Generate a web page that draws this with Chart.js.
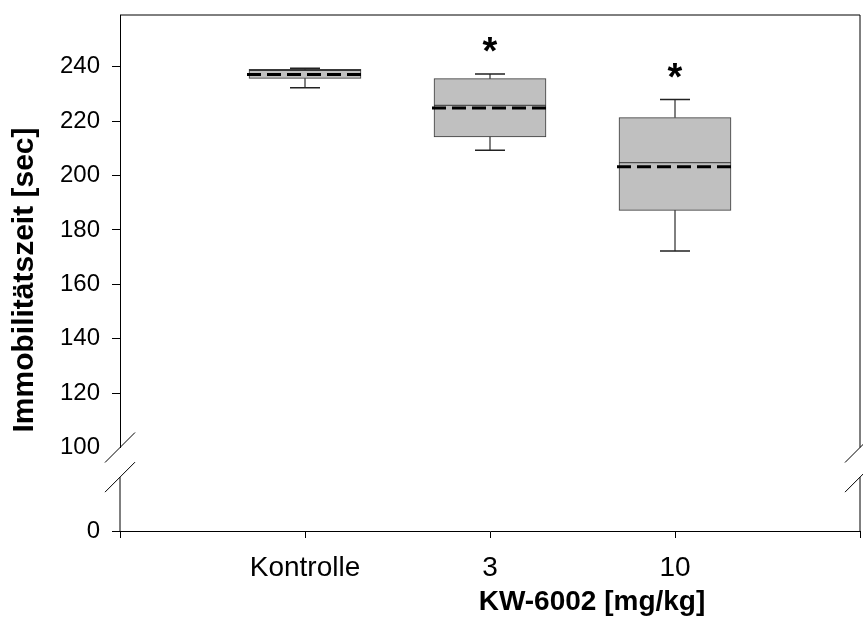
<!DOCTYPE html>
<html lang="de">
<head>
<meta charset="UTF-8">
<title>Immobilitätszeit</title>
<script src="https://cdn.jsdelivr.net/npm/chart.js"></script>
<style>
  html, body { margin: 0; padding: 0; background: #fff; }
  #wrap { width: 863px; height: 626px; }
</style>
</head>
<body>
<div id="wrap"><canvas id="boxChart"></canvas></div>
<script>
// categories (first and last are empty slots at the axis ends)
const groups = ['', 'Kontrolle', '3', '10', ''];

// box plot values per group
const whiskerLow  = [null, 232.3, 209.3, 172.2, null];
const q1          = [null, 235.7, 214.2, 187.2, null];
const median      = [null, 238.6, 225.8, 204.7, null];
const meanVals    = [null, 237.1, 224.8, 203.2, null];
const q3          = [null, 239.0, 235.6, 221.3, null];
const whiskerHigh = [null, 239.4, 237.3, 227.9, null];

// significance marks (value where the star sits)
const starAt = [null, null, 249.8, 240.0, null];

// y axis: upper segment and lower segment of the broken axis
const yTicksUpper = [100, 120, 140, 160, 180, 200, 220, 240];
const yTicksLower = [0];
const breakTop = 20;   // lower segment axis line starts here

const FONT = "'Liberation Sans', Arial, sans-serif";

// floating bars for the boxes
const boxes = groups.map((g, i) => q1[i] == null ? null : [q1[i], q3[i]]);

// drop the label overhang chart.js reserves around the axes
function noPad(s) {
  s.paddingTop = 0;
  s.paddingBottom = 0;
  s.paddingLeft = 0;
  s.paddingRight = 0;
}

const boxExtras = {
  id: 'boxExtras',
  afterDatasetsDraw(chart) {
    const ctx = chart.ctx;
    const x = chart.scales.x, y = chart.scales.y;
    const meta = chart.getDatasetMeta(0);
    ctx.save();
    groups.forEach((g, i) => {
      if (q1[i] == null) return;
      const cx = x.getPixelForValue(i);
      const w = meta.data[i].width;
      const capW = 30;
      // whiskers
      ctx.strokeStyle = '#000';
      ctx.lineWidth = 1;
      ctx.beginPath();
      ctx.moveTo(cx, y.getPixelForValue(q3[i]));
      ctx.lineTo(cx, y.getPixelForValue(whiskerHigh[i]));
      ctx.moveTo(cx, y.getPixelForValue(q1[i]));
      ctx.lineTo(cx, y.getPixelForValue(whiskerLow[i]));
      ctx.stroke();
      ctx.strokeStyle = '#222';
      ctx.lineWidth = 1.5;
      ctx.beginPath();
      [whiskerHigh[i], whiskerLow[i]].forEach(v => {
        const py = y.getPixelForValue(v);
        ctx.moveTo(cx - capW / 2, py);
        ctx.lineTo(cx + capW / 2, py);
      });
      ctx.stroke();
      // median
      ctx.strokeStyle = '#333';
      ctx.lineWidth = 1;
      ctx.beginPath();
      const pm = y.getPixelForValue(median[i]);
      ctx.moveTo(cx - w / 2, pm);
      ctx.lineTo(cx + w / 2, pm);
      ctx.stroke();
      // mean (dashed)
      ctx.strokeStyle = '#000';
      ctx.lineWidth = 3;
      ctx.setLineDash([14, 6]);
      ctx.beginPath();
      const pa = y.getPixelForValue(meanVals[i]);
      ctx.moveTo(cx - w / 2 - 2, pa);
      ctx.lineTo(cx + w / 2 + 2, pa);
      ctx.stroke();
      ctx.setLineDash([]);
      // star
      if (starAt[i] != null) {
        const size = 38;
        ctx.fillStyle = '#000';
        ctx.font = 'bold ' + size + 'px ' + FONT;
        ctx.textAlign = 'center';
        ctx.textBaseline = 'alphabetic';
        ctx.fillText('*', cx, y.getPixelForValue(starAt[i]) + 0.62 * size);
      }
    });
    ctx.restore();
  }
};

const frame = {
  id: 'frame',
  afterDraw(chart) {
    const ctx = chart.ctx;
    const x = chart.scales.x, y = chart.scales.y, y0 = chart.scales.y0;
    const left = x.left, right = x.right;
    const gapTop = y.bottom;
    const gapBottom = y0.getPixelForValue(breakTop);
    ctx.save();
    ctx.strokeStyle = '#000';
    ctx.lineWidth = 1;
    ctx.beginPath();
    // top border
    ctx.moveTo(left, y.top);
    ctx.lineTo(right, y.top);
    // right border, upper part
    ctx.moveTo(right, y.top);
    ctx.lineTo(right, gapTop);
    // lower segments
    ctx.moveTo(left, gapBottom);
    ctx.lineTo(left, y0.bottom);
    ctx.moveTo(right, gapBottom);
    ctx.lineTo(right, y0.bottom);
    // break marks
    [left, right].forEach(px => {
      [gapTop, gapBottom].forEach(py => {
        ctx.moveTo(px - 15, py + 15);
        ctx.lineTo(px + 15, py - 15);
      });
    });
    ctx.stroke();

    // axis titles
    ctx.fillStyle = '#000';
    ctx.font = 'bold 28px ' + FONT;
    ctx.textAlign = 'center';
    ctx.textBaseline = 'alphabetic';
    ctx.fillText('KW-6002 [mg/kg]', 592, 610);
    ctx.font = 'bold 30px ' + FONT;
    ctx.translate(33, 280);
    ctx.rotate(-Math.PI / 2);
    ctx.fillText('Immobilitätszeit [sec]', 0, 0);
    ctx.restore();
  }
};

new Chart(document.getElementById('boxChart'), {
  type: 'bar',
  data: {
    labels: groups,
    datasets: [{
      data: boxes,
      yAxisID: 'y',
      backgroundColor: '#c0c0c0',
      borderColor: '#3a3a3a',
      borderWidth: 1,
      borderSkipped: false,
      barThickness: 112
    }]
  },
  options: {
    responsive: true,
    maintainAspectRatio: false,
    animation: false,
    layout: { padding: { top: 15, right: 3, left: 0, bottom: 0 } },
    plugins: { legend: { display: false }, tooltip: { enabled: false } },
    scales: {
      x: {
        offset: false,
        grid: { offset: false, drawOnChartArea: false, drawTicks: true, tickLength: 7, color: '#000' },
        border: { display: true, color: '#000', width: 1 },
        ticks: { color: '#000', font: { family: FONT, size: 28 }, padding: 13, maxRotation: 0, autoSkip: false },
        afterFit: s => { s.height = 95; noPad(s); }
      },
      // lower segment first so that the upper one is stacked on top
      y0: {
        type: 'linear',
        position: 'left',
        stack: 'v',
        stackWeight: 83.5,
        min: 0,
        max: 31,
        grid: { drawOnChartArea: false, tickLength: 8, color: '#000' },
        border: { display: false },
        ticks: { color: '#000', font: { family: FONT, size: 24 }, padding: 12 },
        afterBuildTicks: s => { s.ticks = yTicksLower.map(v => ({ value: v })); },
        afterFit: s => { s.width = 120; noPad(s); }
      },
      y: {
        type: 'linear',
        position: 'left',
        stack: 'v',
        stackWeight: 432.5,
        min: 100,
        max: 259,
        grid: {
          drawOnChartArea: false, tickLength: 8,
          tickColor: c => c.tick && c.tick.value === 100 ? 'rgba(0,0,0,0)' : '#000'
        },
        border: { display: true, color: '#000', width: 1 },
        ticks: { color: '#000', font: { family: FONT, size: 24 }, padding: 12, includeBounds: false },
        afterBuildTicks: s => { s.ticks = yTicksUpper.map(v => ({ value: v })); },
        afterFit: s => { s.width = 120; noPad(s); }
      }
    }
  },
  plugins: [boxExtras, frame]
});
</script>
</body>
</html>
